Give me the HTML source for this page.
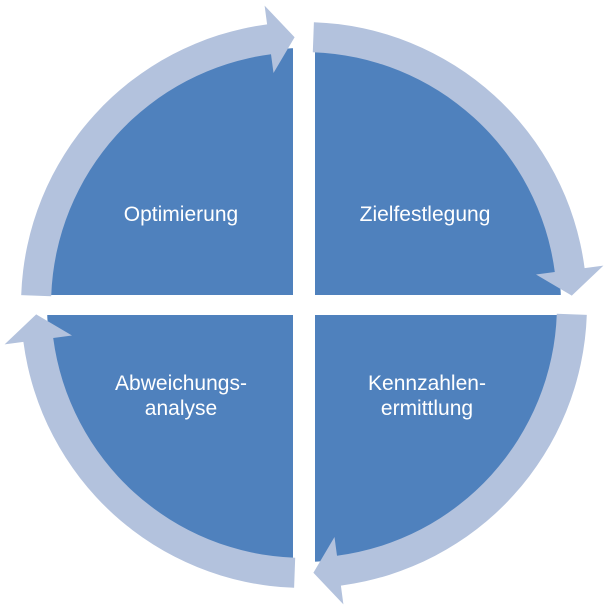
<!DOCTYPE html>
<html><head><meta charset="utf-8"><style>
html,body{margin:0;padding:0;background:#fff;width:609px;height:610px;overflow:hidden}
text{font-family:"Liberation Sans","DejaVu Sans",sans-serif;font-size:21px;fill:#fff}
</style></head><body>
<svg width="609" height="610" viewBox="0 0 609 610" xmlns="http://www.w3.org/2000/svg">
<circle cx="304" cy="305" r="257" fill="#4f81bd"/>
<rect x="293" y="0" width="22" height="610" fill="#fff"/>
<rect x="0" y="295" width="609" height="20" fill="#fff"/>
<g fill="#b3c2dd">
<path id="a" d="M313.9,22.2 A283,283 0 0 1 584.6,268.1 L603.4,265.6 L571.8,295.6 L536,274.5 L554.8,272.0 A253,253 0 0 0 312.8,52.2 Z"/>
<use href="#a" transform="rotate(90 304 305)"/>
<use href="#a" transform="rotate(180 304 305)"/>
<use href="#a" transform="rotate(270 304 305)"/>
</g>
<text x="181" y="221" text-anchor="middle">Optimierung</text>
<text x="425" y="221" text-anchor="middle">Zielfestlegung</text>
<text x="427" y="390" text-anchor="middle">Kennzahlen-</text>
<text x="427" y="415" text-anchor="middle">ermittlung</text>
<text x="181" y="390" text-anchor="middle">Abweichungs-</text>
<text x="181" y="415" text-anchor="middle">analyse</text>
</svg>
</body></html>
